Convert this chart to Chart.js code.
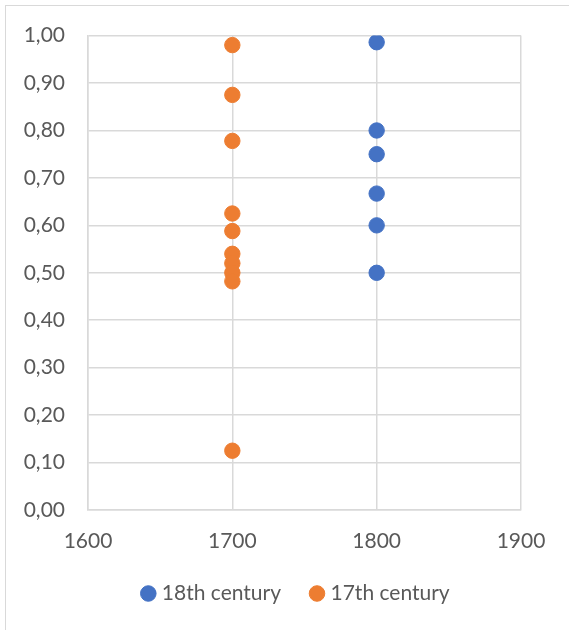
<!DOCTYPE html>
<html>
<head>
<meta charset="utf-8">
<script src="https://cdn.jsdelivr.net/npm/chart.js@4"></script>
<style>
  html, body { margin: 0; padding: 0; background: #fff; }
  #frame { position: absolute; left: 5px; top: 5px; width: 620px; height: 660px; border: 1px solid #d9d9d9; }
  #chart { position: absolute; left: 0; top: 0; }
</style>
</head>
<body>
<div id="frame"></div>
<canvas id="chart" width="569" height="630"></canvas>
<script>
// scatter of two centuries
const seriesNames = ['18th century', '17th century']
const x18 = [1800, 1800, 1800, 1800, 1800, 1800]
const y18 = [0.986, 0.80, 0.75, 0.667, 0.60, 0.50]
const x17 = [1700, 1700, 1700, 1700, 1700, 1700, 1700, 1700, 1700, 1700]
const y17 = [0.98, 0.875, 0.778, 0.625, 0.588, 0.54, 0.52, 0.50, 0.482, 0.125]
const xTicks = [1600, 1700, 1800, 1900]
const yTicks = [0, 0.1, 0.2, 0.3, 0.4, 0.5, 0.6, 0.7, 0.8, 0.9, 1.0]

const pts = (xs, ys) => xs.map((x, i) => ({ x, y: ys[i] }))
const text = '#595959'
const grid = '#d9d9d9'
const font = { family: 'Lato', size: 21 }

// the legend in the original sits a bit right of the canvas centre
const nudgeLegend = {
  id: 'nudgeLegend',
  afterLayout(chart) {
    const lg = chart.legend
    if (lg) { lg.left += 37; lg.right += 37 }
  },
}

new Chart(document.getElementById('chart'), {
  type: 'scatter',
  data: {
    datasets: [
      { label: seriesNames[0], data: pts(x18, y18), backgroundColor: '#4472c4', borderColor: '#4472c4', pointRadius: 7.7, pointHoverRadius: 7.7 },
      { label: seriesNames[1], data: pts(x17, y17), backgroundColor: '#ed7d31', borderColor: '#ed7d31', pointRadius: 7.7, pointHoverRadius: 7.7 },
    ],
  },
  options: {
    responsive: false,
    animation: false,
    layout: { padding: { left: 0, top: 35, right: 48, bottom: 16 } },
    plugins: {
      tooltip: { enabled: false },
      legend: {
        position: 'bottom',
        labels: { usePointStyle: true, pointStyle: 'circle', boxWidth: 6, boxHeight: 11, padding: 33, color: text, font },
      },
    },
    scales: {
      x: {
        type: 'linear', min: 1600, max: 1900,
        afterBuildTicks: (s) => { s.ticks = xTicks.map((v) => ({ value: v })) },
        afterFit: (s) => { s.height = 40 },
        grid: { color: grid, lineWidth: 1.5, drawTicks: false },
        border: { color: grid, width: 1.5 },
        ticks: { color: text, font, padding: 19, maxRotation: 0, callback: (v) => String(v) },
      },
      y: {
        min: 0, max: 1,
        afterBuildTicks: (s) => { s.ticks = yTicks.map((v) => ({ value: v })) },
        afterFit: (s) => { s.width = 88 },
        grid: { color: grid, lineWidth: 1.5, drawTicks: false },
        border: { color: grid, width: 1.5 },
        ticks: { color: text, font, padding: 23, callback: (v) => v.toFixed(2).replace('.', ',') },
      },
    },
  },
  plugins: [nudgeLegend],
})
</script>
</body>
</html>
